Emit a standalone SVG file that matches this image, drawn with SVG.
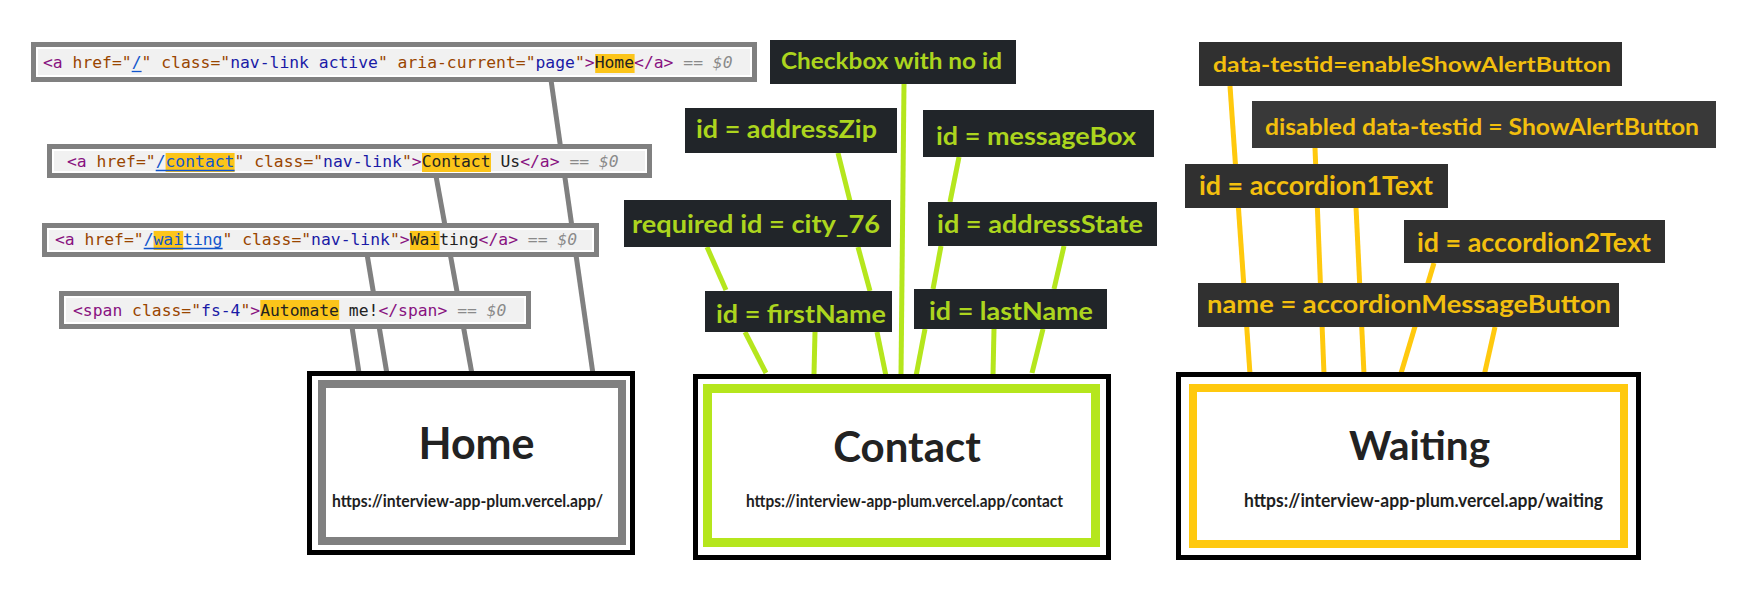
<svg xmlns="http://www.w3.org/2000/svg" width="1750" height="597" viewBox="0 0 1750 597">
<style>
.code{font-family:"DejaVu Sans Mono","Liberation Mono",monospace;font-size:16.38px;}
.tg{fill:#881280}.an{fill:#994500}.av{fill:#1a1aa6}.lk{fill:#1155cc}.tx{fill:#222222}.dl{fill:#8a8a8a;font-style:italic}
.cbox{fill:#ffffff;stroke:#808080;stroke-width:5}
.cin{fill:#f1f1f1}
.hl{fill:#fcc51a}
.ul{stroke:#1155cc;stroke-width:1.3}
.lbl{font-family:Lato,"Open Sans",sans-serif;font-weight:700;}
.gbg{fill:#212529}.ybg{fill:#303030}
.gt{fill:#acd51e}.yt{fill:#f2bf0e}
.gl{stroke:#b5e61d;stroke-width:5;fill:none}
.yl{stroke:#ffc90e;stroke-width:5;fill:none}
.kl{stroke:#808080;stroke-width:5;fill:none}
.title{font-family:Lato,"Open Sans",sans-serif;font-weight:700;fill:#222222;text-anchor:middle}
.url{font-family:Lato,"Open Sans",sans-serif;font-weight:700;fill:#1e1e1e}
.blk{fill:#ffffff;stroke:#000000;stroke-width:5}
</style>
<rect width="1750" height="597" fill="#ffffff"/>
<g id="connectors">
  <line class="kl" x1="551" y1="80" x2="593" y2="374"/>
  <line class="kl" x1="436" y1="176" x2="472" y2="374"/>
  <line class="kl" x1="367" y1="254" x2="387" y2="374"/>
  <line class="kl" x1="352" y1="327" x2="359" y2="373"/>
  <line class="gl" x1="904" y1="84" x2="901" y2="375"/>
  <line class="gl" x1="838" y1="153" x2="850" y2="201"/>
  <line class="gl" x1="959" y1="157" x2="950" y2="202"/>
  <line class="gl" x1="707" y1="247" x2="726" y2="290"/>
  <line class="gl" x1="858" y1="247" x2="870" y2="291"/>
  <line class="gl" x1="941" y1="246" x2="933" y2="289"/>
  <line class="gl" x1="1064" y1="246" x2="1054" y2="289"/>
  <line class="gl" x1="745" y1="332" x2="766" y2="373"/>
  <line class="gl" x1="815" y1="332" x2="814" y2="374"/>
  <line class="gl" x1="877" y1="332" x2="886" y2="376"/>
  <line class="gl" x1="925" y1="329" x2="916" y2="376"/>
  <line class="gl" x1="994" y1="329" x2="993" y2="375"/>
  <line class="gl" x1="1043" y1="329" x2="1032" y2="373"/>
  <line class="yl" x1="1230" y1="86" x2="1250" y2="374"/>
  <line class="yl" x1="1315" y1="148" x2="1324" y2="374"/>
  <line class="yl" x1="1356" y1="207" x2="1364" y2="374"/>
  <line class="yl" x1="1434" y1="263" x2="1399" y2="380"/>
  <line class="yl" x1="1495" y1="327" x2="1484" y2="376"/>
</g>
<g id="code-home">
  <rect class="cbox" x="33.5" y="44.5" width="721" height="35"/>
  <rect class="cin" x="38" y="49" width="712" height="26"/>
  <rect class="hl" x="595.2" y="54" width="39.4" height="19"/>
  <line class="ul" x1="131.7" y1="71.5" x2="141.6" y2="71.5"/>
  <text class="code" x="43" y="68" xml:space="preserve"><tspan class="tg">&lt;a</tspan><tspan class="an"> href="</tspan><tspan class="lk">/</tspan><tspan class="an">" class="</tspan><tspan class="av">nav-link active</tspan><tspan class="an">" aria-current="</tspan><tspan class="av">page</tspan><tspan class="an">"</tspan><tspan class="tg">&gt;</tspan><tspan class="tx">Home</tspan><tspan class="tg">&lt;/a&gt;</tspan><tspan class="dl"> == $0</tspan></text>
</g>
<g id="code-contact">
  <rect class="cbox" x="49.5" y="146.5" width="600" height="29"/>
  <rect class="cin" x="54" y="151" width="591" height="20"/>
  <rect class="hl" x="165.6" y="153" width="69" height="19"/>
  <rect class="hl" x="422" y="153" width="69" height="19"/>
  <line class="ul" x1="155.7" y1="170.5" x2="234.6" y2="170.5"/>
  <text class="code" x="67" y="167" xml:space="preserve"><tspan class="tg">&lt;a</tspan><tspan class="an"> href="</tspan><tspan class="lk">/contact</tspan><tspan class="an">" class="</tspan><tspan class="av">nav-link</tspan><tspan class="an">"</tspan><tspan class="tg">&gt;</tspan><tspan class="tx">Contact Us</tspan><tspan class="tg">&lt;/a&gt;</tspan><tspan class="dl"> == $0</tspan></text>
</g>
<g id="code-waiting">
  <rect class="cbox" x="44.5" y="225.5" width="552" height="29"/>
  <rect class="cin" x="49" y="230" width="543" height="20"/>
  <rect class="hl" x="153.6" y="231" width="29.6" height="19"/>
  <rect class="hl" x="410" y="231" width="29.6" height="19"/>
  <line class="ul" x1="143.7" y1="248.5" x2="222.6" y2="248.5"/>
  <text class="code" x="55" y="245" xml:space="preserve"><tspan class="tg">&lt;a</tspan><tspan class="an"> href="</tspan><tspan class="lk">/waiting</tspan><tspan class="an">" class="</tspan><tspan class="av">nav-link</tspan><tspan class="an">"</tspan><tspan class="tg">&gt;</tspan><tspan class="tx">Waiting</tspan><tspan class="tg">&lt;/a&gt;</tspan><tspan class="dl"> == $0</tspan></text>
</g>
<g id="code-span">
  <rect class="cbox" x="61.5" y="293.5" width="467" height="33"/>
  <rect class="cin" x="66" y="298" width="458" height="24"/>
  <rect class="hl" x="260.3" y="300" width="78.9" height="20"/>
  <text class="code" x="73" y="316" xml:space="preserve"><tspan class="tg">&lt;span</tspan><tspan class="an"> class="</tspan><tspan class="av">fs-4</tspan><tspan class="an">"</tspan><tspan class="tg">&gt;</tspan><tspan class="tx">Automate me!</tspan><tspan class="tg">&lt;/span&gt;</tspan><tspan class="dl"> == $0</tspan></text>
</g>
<g id="home">
  <rect class="blk" x="309.5" y="373.5" width="323" height="179"/>
  <rect x="322" y="384" width="300" height="157" fill="#ffffff" stroke="#808080" stroke-width="8"/>
  <text class="title" x="476.5" y="459" font-size="43">Home</text>
  <text class="url" x="332" y="507" font-size="17" textLength="271" lengthAdjust="spacingAndGlyphs">https://interview-app-plum.vercel.app/</text>
</g>
<g id="contact">
  <rect class="blk" x="695.5" y="376.5" width="413" height="181"/>
  <rect x="707.5" y="388.5" width="388" height="154" fill="#ffffff" stroke="#b5e61d" stroke-width="9"/>
  <text class="title" x="907" y="462" font-size="42">Contact</text>
  <text class="url" x="746" y="507" font-size="17" textLength="317" lengthAdjust="spacingAndGlyphs">https://interview-app-plum.vercel.app/contact</text>
</g>
<g id="waiting">
  <rect class="blk" x="1178.5" y="374.5" width="460" height="183"/>
  <rect x="1193" y="388" width="431" height="156" fill="#ffffff" stroke="#ffc90e" stroke-width="8"/>
  <text class="title" x="1419.5" y="460" font-size="40.5">Waiting</text>
  <text class="url" x="1244" y="507" font-size="18" textLength="359" lengthAdjust="spacingAndGlyphs">https://interview-app-plum.vercel.app/waiting</text>
</g>
<g id="lbl-checkbox">
  <rect class="gbg" x="770" y="40" width="246" height="44"/>
  <text class="lbl gt" x="781" y="69" font-size="23.5" textLength="221" lengthAdjust="spacingAndGlyphs">Checkbox with no id</text>
</g>
<g id="lbl-addressZip">
  <rect class="gbg" x="685" y="108" width="212" height="45"/>
  <text class="lbl gt" x="696" y="138" font-size="25" textLength="181" lengthAdjust="spacingAndGlyphs">id = addressZip</text>
</g>
<g id="lbl-messageBox">
  <rect class="gbg" x="923" y="110" width="231" height="47"/>
  <text class="lbl gt" x="936" y="145" font-size="25" textLength="200" lengthAdjust="spacingAndGlyphs">id = messageBox</text>
</g>
<g id="lbl-city">
  <rect class="gbg" x="624" y="200" width="267" height="47"/>
  <text class="lbl gt" x="632" y="233" font-size="25" textLength="248" lengthAdjust="spacingAndGlyphs">required id = city_76</text>
</g>
<g id="lbl-addressState">
  <rect class="gbg" x="928" y="202" width="229" height="44"/>
  <text class="lbl gt" x="937" y="233" font-size="25" textLength="206" lengthAdjust="spacingAndGlyphs">id = addressState</text>
</g>
<g id="lbl-firstName">
  <rect class="gbg" x="705" y="291" width="187" height="41"/>
  <text class="lbl gt" x="716" y="323" font-size="25" textLength="170" lengthAdjust="spacingAndGlyphs">id = firstName</text>
</g>
<g id="lbl-lastName">
  <rect class="gbg" x="914" y="289" width="193" height="40"/>
  <text class="lbl gt" x="929" y="320" font-size="25" textLength="164" lengthAdjust="spacingAndGlyphs">id = lastName</text>
</g>
<g id="lbl-enableShowAlert">
  <rect class="ybg" x="1199" y="42" width="423" height="44"/>
  <text class="lbl yt" x="1213" y="72" font-size="21.5" textLength="398" lengthAdjust="spacingAndGlyphs">data-testid=enableShowAlertButton</text>
</g>
<g id="lbl-showAlert">
  <rect x="1252" y="101" width="464" height="47" fill="#393939"/>
  <text class="lbl yt" x="1265" y="135" font-size="22.5" textLength="434" lengthAdjust="spacingAndGlyphs">disabled data-testid = ShowAlertButton</text>
</g>
<g id="lbl-accordion1">
  <rect class="ybg" x="1185" y="164" width="263" height="44"/>
  <text class="lbl yt" x="1199" y="195" font-size="27" textLength="234" lengthAdjust="spacingAndGlyphs">id = accordion1Text</text>
</g>
<g id="lbl-accordion2">
  <rect class="ybg" x="1404" y="220" width="261" height="43"/>
  <text class="lbl yt" x="1417" y="252" font-size="26.5" textLength="234" lengthAdjust="spacingAndGlyphs">id = accordion2Text</text>
</g>
<g id="lbl-accordionButton">
  <rect class="ybg" x="1198" y="283" width="421" height="44"/>
  <text class="lbl yt" x="1207" y="313" font-size="25" textLength="404" lengthAdjust="spacingAndGlyphs">name = accordionMessageButton</text>
</g>
</svg>
